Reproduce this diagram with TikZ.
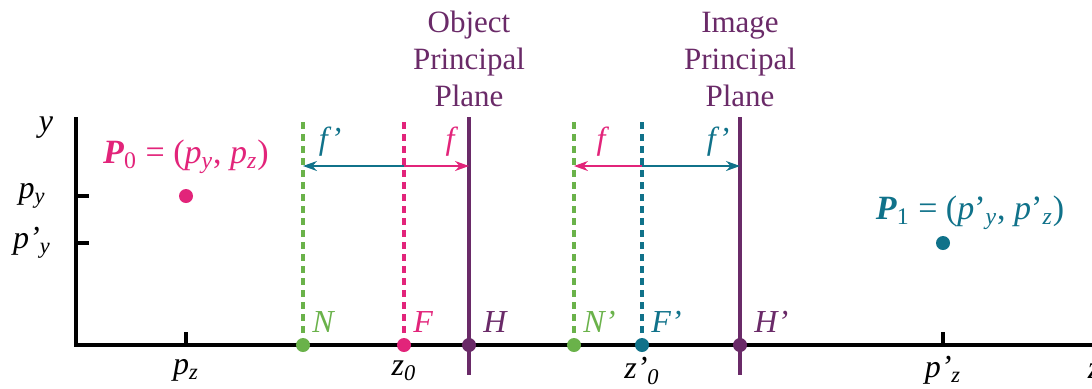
\documentclass[tikz,border=0pt]{standalone}
\usepackage{xcolor}
\usepackage{tikz}
\usepackage{fontspec}
\setmainfont{Liberation Serif}
\usetikzlibrary{
  arrows.meta,
  positioning,
  calc
}
\definecolor{opPink}{HTML}{E2247A}
\definecolor{opGreen}{HTML}{6AB24A}
\definecolor{opTeal}{HTML}{10728A}
\definecolor{opPurple}{HTML}{6A2A68}
\newcommand{\isub}[1]{\textsubscript{\textit{#1}}}

\begin{document}
\begin{tikzpicture}[x=0.5pt, y=-0.5pt, font=\fontsize{15.5}{18}\selectfont,
  axis/.style={line width=1.6pt, black},
  plane/.style={line width=1.6pt, opPurple},
  guide/.style={line width=1.8pt, dash pattern=on 3.5pt off 2.5pt},
  farrow/.style={line width=0.8pt, -{Stealth[length=7pt, width=5pt]}},
  dot/.style={circle, fill=#1, inner sep=0pt, minimum size=7pt},
  lab/.style={font=\fontsize{16}{18}\selectfont\itshape, text=#1, inner sep=1pt}]
  \useasboundingbox (0,0) rectangle (1092,388);

  % axes
  \coordinate (O) at (76,345);
  \coordinate (yend) at (76,117);
  \coordinate (zend) at (1092,345);
  \draw[axis] (yend) -- (O) -- (zend);
  \node[lab=black] (ylab) at (46,128) {y};
  \node[lab=black] (zlab) at (1094,371) {z};

  % ticks on the y axis
  \foreach \y/\name/\txt in {196/py/{p\isub{y}}, 243/ppy/{p'\isub{y}}}{
    \coordinate (\name tick) at (76,\y);
    \draw[axis] (\name tick) -- ++(13,0);
    \node[lab=black] (\name) at (32,\y) {\txt};
  }

  % ticks on the z axis
  \foreach \x/\name/\txt in {186/pz/{p\isub{z}}, 943/ppz/{p'\isub{z}}}{
    \coordinate (\name tick) at (\x,345);
    \draw[axis] (\name tick) -- ++(0,-13);
    \node[lab=black] (\name) at (\x,370) {\txt};
  }

  % the two points
  \node[dot=opPink] (P0) at (186,196) {};
  \node[text=opPink, font=\fontsize{17}{18}\selectfont] (P0lab) at (186,157)
    {\textbf{\textit{P}}\textsubscript{0} = (\textit{p}\isub{y}, \textit{p}\isub{z})};
  \node[dot=opTeal] (P1) at (943,243) {};
  \node[text=opTeal, font=\fontsize{17}{18}\selectfont] (P1lab) at (970,213)
    {\textbf{\textit{P}}\textsubscript{1} = (\textit{p}'\isub{y}, \textit{p}'\isub{z})};

  % dashed guide lines
  \foreach \x/\name/\col/\txt in {303/N/opGreen/N, 404/F/opPink/F, 574/Np/opGreen/N', 642/Fp/opTeal/F'}{
    \node[dot=\col] (\name) at (\x,345) {};
    \coordinate (\name top) at (\x,122);
    \draw[guide, \col] (\name top) -- (\name);
    \node[lab=\col, anchor=base west] (\name lab) at (\x+7,332) {\txt};
  }

  % principal planes
  \foreach \x/\name/\txt/\first in {469/H/H/Object, 740/Hp/H'/Image}{
    \coordinate (\name top) at (\x,117);
    \coordinate (\name bot) at (\x,375);
    \draw[plane] (\name top) -- (\name bot);
    \node[dot=opPurple] (\name) at (\x,345) {};
    \node[lab=opPurple, anchor=base west] (\name lab) at (\x+12,332) {\txt};
    \node[text=opPurple, align=center, font=\fontsize{15.5}{18.5}\selectfont] (\name title) at (\x,59)
      {\first\\Principal\\Plane};
  }

  % z0 labels
  \node[lab=black] (z0) at (404,371) {z\isub{0}};
  \node[lab=black] (zp0) at (642,371) {z'\isub{0}};

  % focal distances
  \coordinate (arow) at (0,166);
  \draw[farrow, opTeal] (F |- arow) -- (N |- arow);
  \draw[farrow, opPink] (F |- arow) -- (H |- arow);
  \draw[farrow, opPink] (Fp |- arow) -- (Np |- arow);
  \draw[farrow, opTeal] (Fp |- arow) -- (Hp |- arow);
  \node[lab=opTeal] (fl1) at (330,142) {f'};
  \node[lab=opPink] (fl2) at (450,142) {f};
  \node[lab=opPink] (fl3) at (601,142) {f};
  \node[lab=opTeal] (fl4) at (718,142) {f'};
\end{tikzpicture}
\end{document}
